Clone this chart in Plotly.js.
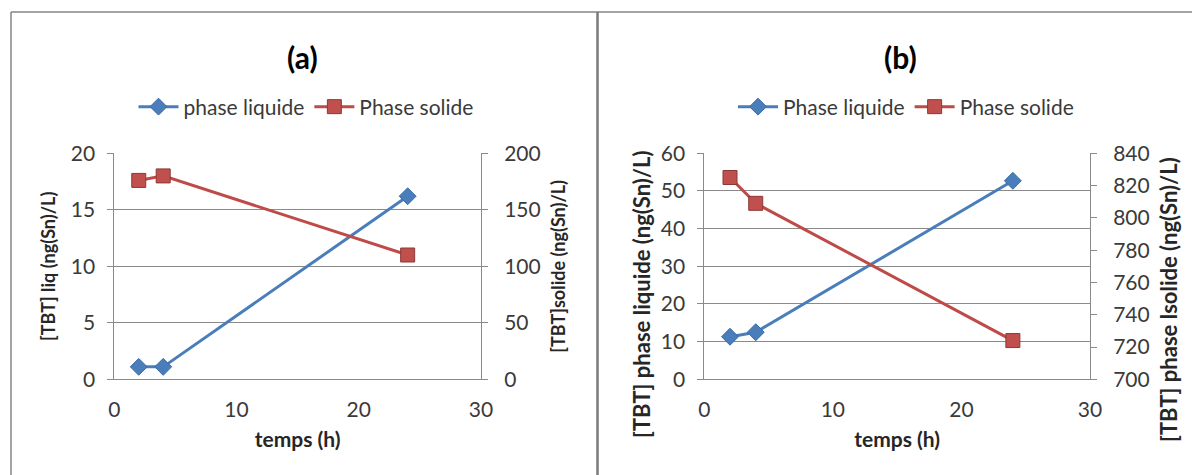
<!DOCTYPE html>
<html>
<head>
<meta charset="utf-8">
<script src="https://cdn.plot.ly/plotly-3.0.1.min.js"></script>
<style>html,body{margin:0;padding:0;background:#fff;}#chart{width:1192px;height:475px;}</style>
</head>
<body>
<div id="chart"></div>
<script>
// Data
const hours = [2, 4, 24];
const liquideA = [1.1, 1.1, 16.2];
const solideA = [176, 180, 110];
const liquideB = [11.3, 12.5, 52.7];
const solideB = [825, 809, 724];
const namesA = ["phase liquide", "Phase solide"];
const namesB = ["Phase liquide", "Phase solide"];
const panelTitles = ["(a)", "(b)"];
const xTitle = "temps (h)";
const yTitlesA = ["[TBT] liq (ng(Sn)/L)", "[TBT]solide (ng(Sn)/L)"];
const yTitlesB = ["[TBT] phase liquide (ng(Sn)/L)", "[TBT] phase lsolide (ng(Sn)/L)"];

const FONT = "Lato, Carlito, Calibri, 'Open Sans', sans-serif";
const BLUE = "#4a7ebb";
const RED = "#be4b48";
const GRID = "#8a8a8a";
const TXT = "#3a3a3a";

function blueTrace(y, name, xa, ya, lg) {
  return {x: hours, y: y, name: name, type: "scatter", mode: "lines+markers",
    xaxis: xa, yaxis: ya, legend: lg,
    line: {color: BLUE, width: 3},
    marker: {symbol: "diamond", size: 13, color: BLUE, line: {color: "#3a6aa5", width: 1}}};
}
function redTrace(y, name, xa, ya, lg) {
  return {x: hours, y: y, name: name, type: "scatter", mode: "lines+markers",
    xaxis: xa, yaxis: ya, legend: lg,
    line: {color: RED, width: 3},
    marker: {symbol: "square", size: 14, color: "#c0504d", line: {color: "#8c3836", width: 1}}};
}

const data = [
  blueTrace(liquideA, namesA[0], "x", "y", "legend"),
  redTrace(solideA, namesA[1], "x", "y2", "legend"),
  blueTrace(liquideB, namesB[0], "x2", "y3", "legend2"),
  redTrace(solideB, namesB[1], "x2", "y4", "legend2")
];

const W = 1192, H = 475;
const px = v => v / W;
const py = v => (H - v) / H;
const yDom = [py(379.3), py(153.3)];
const TICKF = {family: FONT, size: 21, color: TXT};
const TITLEA = {family: FONT, size: 18, color: "#262626", weight: "bold"};
const TITLEX = {family: FONT, size: 21, color: "#262626", weight: "bold"};
const TITLEB = {family: FONT, size: 22, color: "#262626", weight: "bold"};

function xAxis(dom, anchor) {
  return {domain: dom, anchor: anchor, range: [0, 30], dtick: 10, tick0: 0,
    showgrid: false, zeroline: false, showline: true, linecolor: GRID, linewidth: 1,
    ticks: "", ticklabelstandoff: 11, tickfont: TICKF,
    title: {text: xTitle, standoff: 12, font: TITLEX}};
}
function yLeft(dom, anchor, range, dtick, title, standoff) {
  const ax = {domain: dom, anchor: anchor, range: range, dtick: dtick, tick0: 0,
    showgrid: true, gridcolor: GRID, gridwidth: 1, zeroline: false,
    showline: true, linecolor: GRID, linewidth: 1,
    ticks: "outside", ticklen: 6, tickcolor: GRID, ticklabelstandoff: 8,
    tickfont: TICKF};
  if (title) ax.title = {text: title, standoff: standoff, font: TITLEA};
  return ax;
}
function yRight(over, anchor, range, dtick, tick0, title, standoff) {
  const ax = {overlaying: over, side: "right", anchor: anchor, range: range, dtick: dtick, tick0: tick0,
    showgrid: false, zeroline: false, showline: true, linecolor: GRID, linewidth: 1,
    ticks: "outside", ticklen: 6, tickcolor: GRID, ticklabelstandoff: 12,
    tickfont: TICKF};
  if (title) ax.title = {text: title, standoff: standoff, font: TITLEA};
  return ax;
}

const layout = {
  width: W, height: H,
  margin: {l: 0, r: 0, t: 0, b: 0},
  paper_bgcolor: "#fff", plot_bgcolor: "#fff",
  font: {family: FONT, color: TXT},
  xaxis: xAxis([px(114.3), px(481)], "y"),
  yaxis: yLeft(yDom, "x", [0, 20], 5, yTitlesA[0], 10),
  yaxis2: yRight("y", "x", [0, 200], 50, 0, yTitlesA[1], 12),
  xaxis2: xAxis([px(704.3), px(1090)], "y3"),
  yaxis3: yLeft(yDom, "x2", [0, 60], 10, null, 0),
  yaxis4: yRight("y3", "x2", [700, 840], 20, 700, null, 0),
  legend: {orientation: "h", x: px(306), y: py(107), xanchor: "center", yanchor: "middle",
    font: {family: FONT, size: 21, color: TXT}, bgcolor: "rgba(0,0,0,0)", itemwidth: 40, tracegroupgap: 0},
  legend2: {orientation: "h", x: px(906), y: py(107), xanchor: "center", yanchor: "middle",
    font: {family: FONT, size: 21, color: TXT}, bgcolor: "rgba(0,0,0,0)", itemwidth: 40, tracegroupgap: 0},
  annotations: [
    {text: panelTitles[0], xref: "paper", yref: "paper", x: px(302), y: py(57), xanchor: "center", yanchor: "middle",
     showarrow: false, font: {family: FONT, size: 30, color: "#000", weight: "bold"}},
    {text: panelTitles[1], xref: "paper", yref: "paper", x: px(900), y: py(57), xanchor: "center", yanchor: "middle",
     showarrow: false, font: {family: FONT, size: 30, color: "#000", weight: "bold"}},
    {text: yTitlesB[0], xref: "paper", yref: "paper", x: px(642), y: py(295), xanchor: "center", yanchor: "middle",
     textangle: -90, showarrow: false, font: TITLEB},
    {text: yTitlesB[1], xref: "paper", yref: "paper", x: px(1168), y: py(300), xanchor: "center", yanchor: "middle",
     textangle: -90, showarrow: false, font: TITLEB}
  ],
  shapes: [
    {type: "line", xref: "paper", yref: "paper", x0: px(11), x1: 1, y0: py(12), y1: py(12), line: {color: "#858585", width: 1.5}},
    {type: "line", xref: "paper", yref: "paper", x0: px(11), x1: px(11), y0: py(12), y1: 0, line: {color: "#858585", width: 1.5}},
    {type: "line", xref: "paper", yref: "paper", x0: px(597.5), x1: px(597.5), y0: py(12), y1: 0, line: {color: "#7a7a7a", width: 2.5}}
  ]
};

Plotly.newPlot("chart", data, layout, {displayModeBar: false, staticPlot: true});
</script>
</body>
</html>
